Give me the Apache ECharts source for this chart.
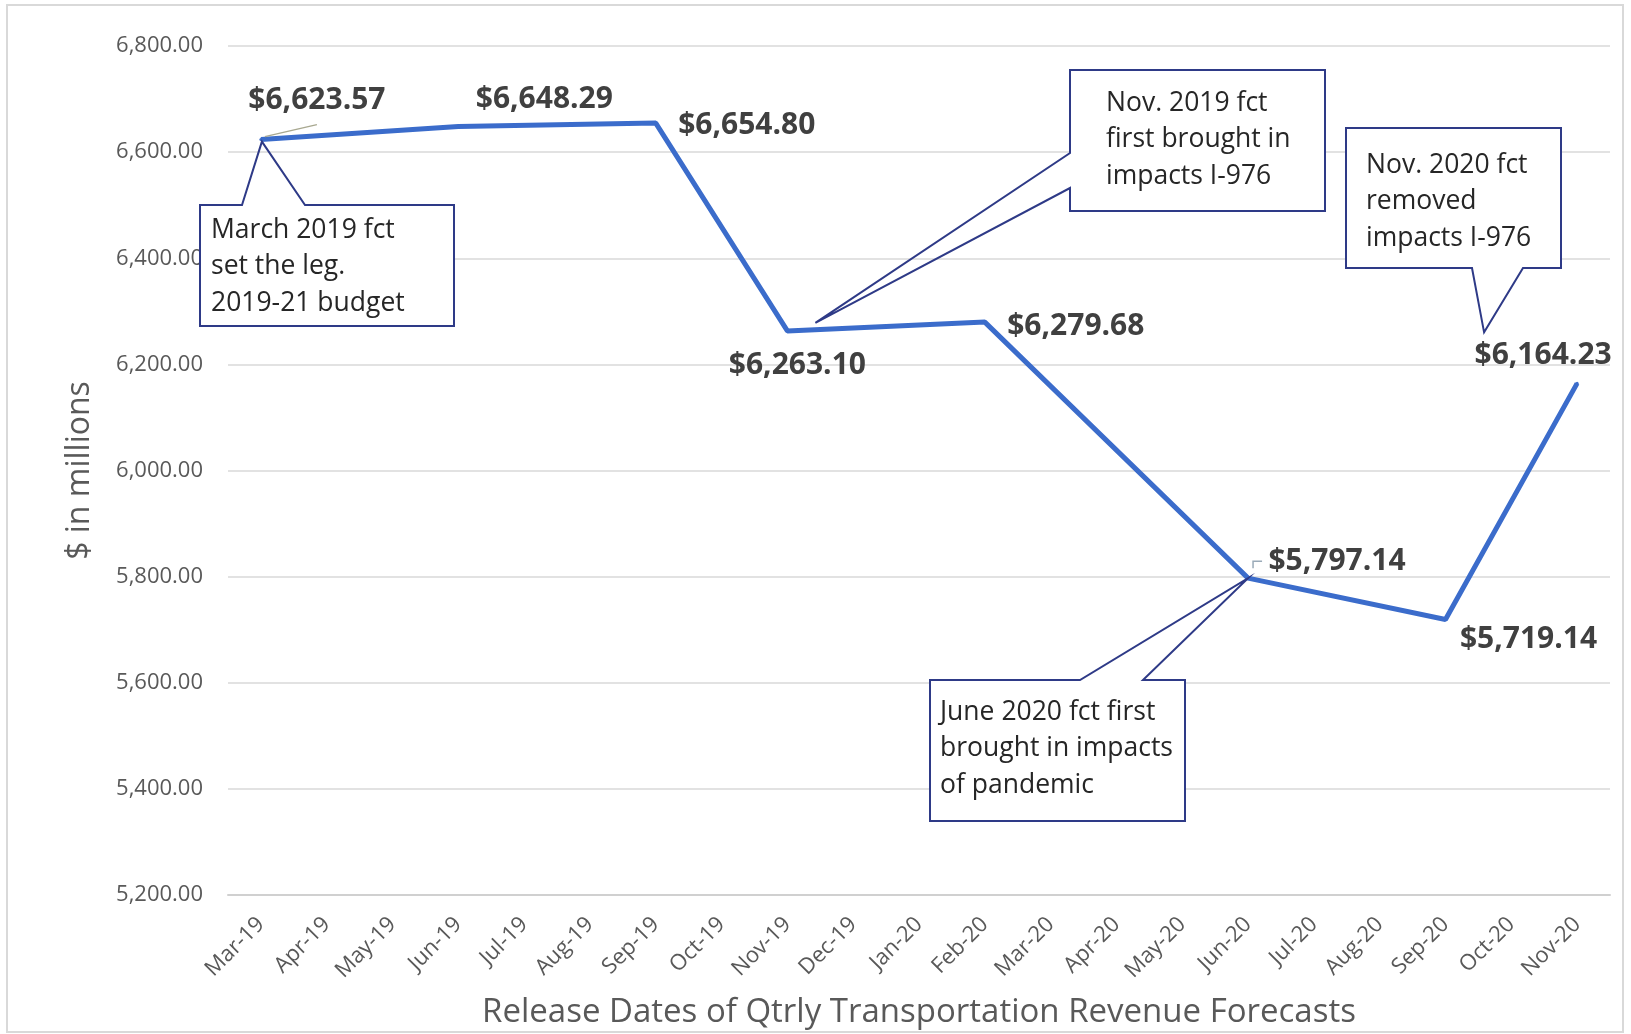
<!DOCTYPE html>
<html>
<head>
<meta charset="utf-8">
<script src="https://cdn.jsdelivr.net/npm/echarts@6/dist/echarts.min.js"></script>
<style>
html,body{margin:0;padding:0;background:#fff;}
#chart{width:1631px;height:1034px;}
</style>
</head>
<body>
<div id="chart"></div>
<script>
// ---- data ----
const categories = ['Mar-19','Apr-19','May-19','Jun-19','Jul-19','Aug-19','Sep-19','Oct-19','Nov-19','Dec-19',
  'Jan-20','Feb-20','Mar-20','Apr-20','May-20','Jun-20','Jul-20','Aug-20','Sep-20','Oct-20','Nov-20'];
const forecastValues = [6623.57, null, null, 6648.29, null, null, 6654.80, null, 6263.10, null,
  null, 6279.68, null, null, null, 5797.14, null, null, 5719.14, null, 6164.23];
const yTicks = { min: 5200, max: 6800, step: 200 };
const xAxisTitle = 'Release Dates of Qtrly Transportation Revenue Forecasts';
const yAxisTitle = '$ in millions';
const noteMar19 = ['March 2019 fct', 'set the leg.', '2019-21 budget'];
const noteNov19 = ['Nov. 2019 fct', 'first brought in', 'impacts I-976'];
const noteJun20 = ['June 2020 fct first', 'brought in impacts', 'of pandemic'];
const noteNov20 = ['Nov. 2020 fct', 'removed', 'impacts I-976'];

// ---- styles / layout ----
const labelOffsets = {
  'Mar-19': [56, -39], 'Jun-19': [86, -27], 'Sep-19': [91, 2], 'Nov-19': [10, 35],
  'Feb-20': [91, 4], 'Jun-20': [89, -17], 'Sep-20': [83, 20], 'Nov-20': [-34, -28]
};
const fmt2 = v => Number(v).toLocaleString('en-US', {minimumFractionDigits: 2, maximumFractionDigits: 2});
const LINE_COLOR = '#3B6CCB';
const BOX_COLOR = '#2E3A87';
const FONT = '"Open Sans", "Noto Sans", sans-serif';

const seriesData = forecastValues.map((v, i) => {
  if (v === null) return null;
  const off = labelOffsets[categories[i]] || [0, -20];
  return { value: v, label: { offset: off } };
});

const chart = echarts.init(document.getElementById('chart'), null, { renderer: 'canvas' });
chart.setOption({
  animation: false,
  backgroundColor: '#ffffff',
  grid: { left: 228, right: 21, top: 46, bottom: 138, containLabel: false },
  xAxis: {
    type: 'category',
    data: categories,
    boundaryGap: true,
    axisLine: { show: true, lineStyle: { color: '#D0D0D0', width: 2 } },
    axisTick: { show: false },
    axisLabel: { rotate: 45, interval: 0, color: '#595959', fontSize: 22, fontFamily: FONT, margin: 26 },
    name: xAxisTitle,
    nameLocation: 'middle',
    nameGap: 101,
    nameTextStyle: { color: '#595959', fontSize: 33, fontFamily: FONT }
  },
  yAxis: {
    type: 'value',
    min: yTicks.min, max: yTicks.max, interval: yTicks.step,
    axisLine: { show: false },
    axisTick: { show: false },
    axisLabel: { color: '#595959', fontSize: 22, fontFamily: FONT, margin: 25, formatter: v => fmt2(v) },
    splitLine: { lineStyle: { color: '#D9D9D9', width: 1.5 } },
    name: yAxisTitle,
    nameLocation: 'middle',
    nameRotate: 90,
    nameGap: 132,
    nameTextStyle: { color: '#595959', fontSize: 32, fontFamily: FONT }
  },
  series: [{
    type: 'line',
    data: seriesData,
    connectNulls: true,
    symbol: 'circle',
    symbolSize: 3,
    showSymbol: true,
    itemStyle: { color: LINE_COLOR },
    lineStyle: { color: LINE_COLOR, width: 5 },
    z: 3,
    label: {
      show: true,
      position: 'inside',
      color: '#404040',
      fontSize: 30,
      fontWeight: 'bold',
      fontFamily: FONT,
      formatter: p => '$' + fmt2(p.value)
    }
  }]
});

// ---- annotations (anchored to data points) ----
function pt(cat) {
  const i = categories.indexOf(cat);
  return chart.convertToPixel({ xAxisIndex: 0, yAxisIndex: 0 }, [i, forecastValues[i]]);
}
const callouts = [
  { anchor: 'Mar-19', lines: noteMar19, box: [200, 205, 454, 326], edge: 'top', wedge: [242, 305], tip: [1, 2], textX: 211, textY: 230 },
  { anchor: 'Nov-19', lines: noteNov19, box: [1070, 70, 1325, 211], edge: 'left', wedge: [153, 188], tip: [28, -8], textX: 1106, textY: 103 },
  { anchor: 'Jun-20', lines: noteJun20, box: [930, 680, 1185, 821], edge: 'top', wedge: [1080, 1143], tip: [0, 0], textX: 940, textY: 712 },
  { anchor: 'Nov-20', lines: noteNov20, box: [1346, 128, 1561, 268], edge: 'bottom', wedge: [1472, 1523], tip: [-93, -51], textX: 1366, textY: 165 }
];
const LH = 36.5;
const graphics = [];
// outer frame
graphics.push({ type: 'rect', z: 0, shape: { x: 7, y: 5, width: 1616, height: 1027 }, style: { fill: 'none', stroke: '#D9D9D9', lineWidth: 2 }, silent: true });
callouts.forEach(c => {
  const p = pt(c.anchor);
  const t = [p[0] + c.tip[0], p[1] + c.tip[1]];
  const [x0, y0, x1, y1] = c.box;
  let pts;
  if (c.edge === 'top') {
    pts = [[x0, y0], [c.wedge[0], y0], t, [c.wedge[1], y0], [x1, y0], [x1, y1], [x0, y1]];
  } else if (c.edge === 'left') {
    pts = [[x0, y0], [x1, y0], [x1, y1], [x0, y1], [x0, c.wedge[1]], t, [x0, c.wedge[0]]];
  } else {
    pts = [[x0, y0], [x1, y0], [x1, y1], [c.wedge[1], y1], t, [c.wedge[0], y1], [x0, y1]];
  }
  graphics.push({ type: 'rect', z: 1, silent: true, shape: { x: x0, y: y0, width: x1 - x0, height: y1 - y0 }, style: { fill: '#ffffff', stroke: 'none' } });
  graphics.push({ type: 'polygon', z: 4, silent: true, shape: { points: pts }, style: { fill: 'none', stroke: BOX_COLOR, lineWidth: 2 } });
  graphics.push({ type: 'text', z: 5, silent: true, x: c.textX, y: c.textY - LH / 2,
    style: { text: c.lines.join('\n'), font: '26.5px ' + FONT, fill: '#262626', lineHeight: LH, verticalAlign: 'top', align: 'left' } });
});
// small label leader lines
const pMar = pt('Mar-19');
graphics.push({ type: 'polyline', z: 4, silent: true, shape: { points: [[pMar[0] + 4, pMar[1] - 3], [pMar[0] + 56, pMar[1] - 15]] }, style: { stroke: '#A8A890', lineWidth: 1.5 } });
const pJun = pt('Jun-20');
graphics.push({ type: 'polyline', z: 4, silent: true, shape: { points: [[pJun[0] + 5, pJun[1] - 10], [pJun[0] + 5, pJun[1] - 17], [pJun[0] + 14, pJun[1] - 17]] }, style: { stroke: '#9AAAB8', lineWidth: 1.5 } });
chart.setOption({ graphic: graphics });
</script>
</body>
</html>
